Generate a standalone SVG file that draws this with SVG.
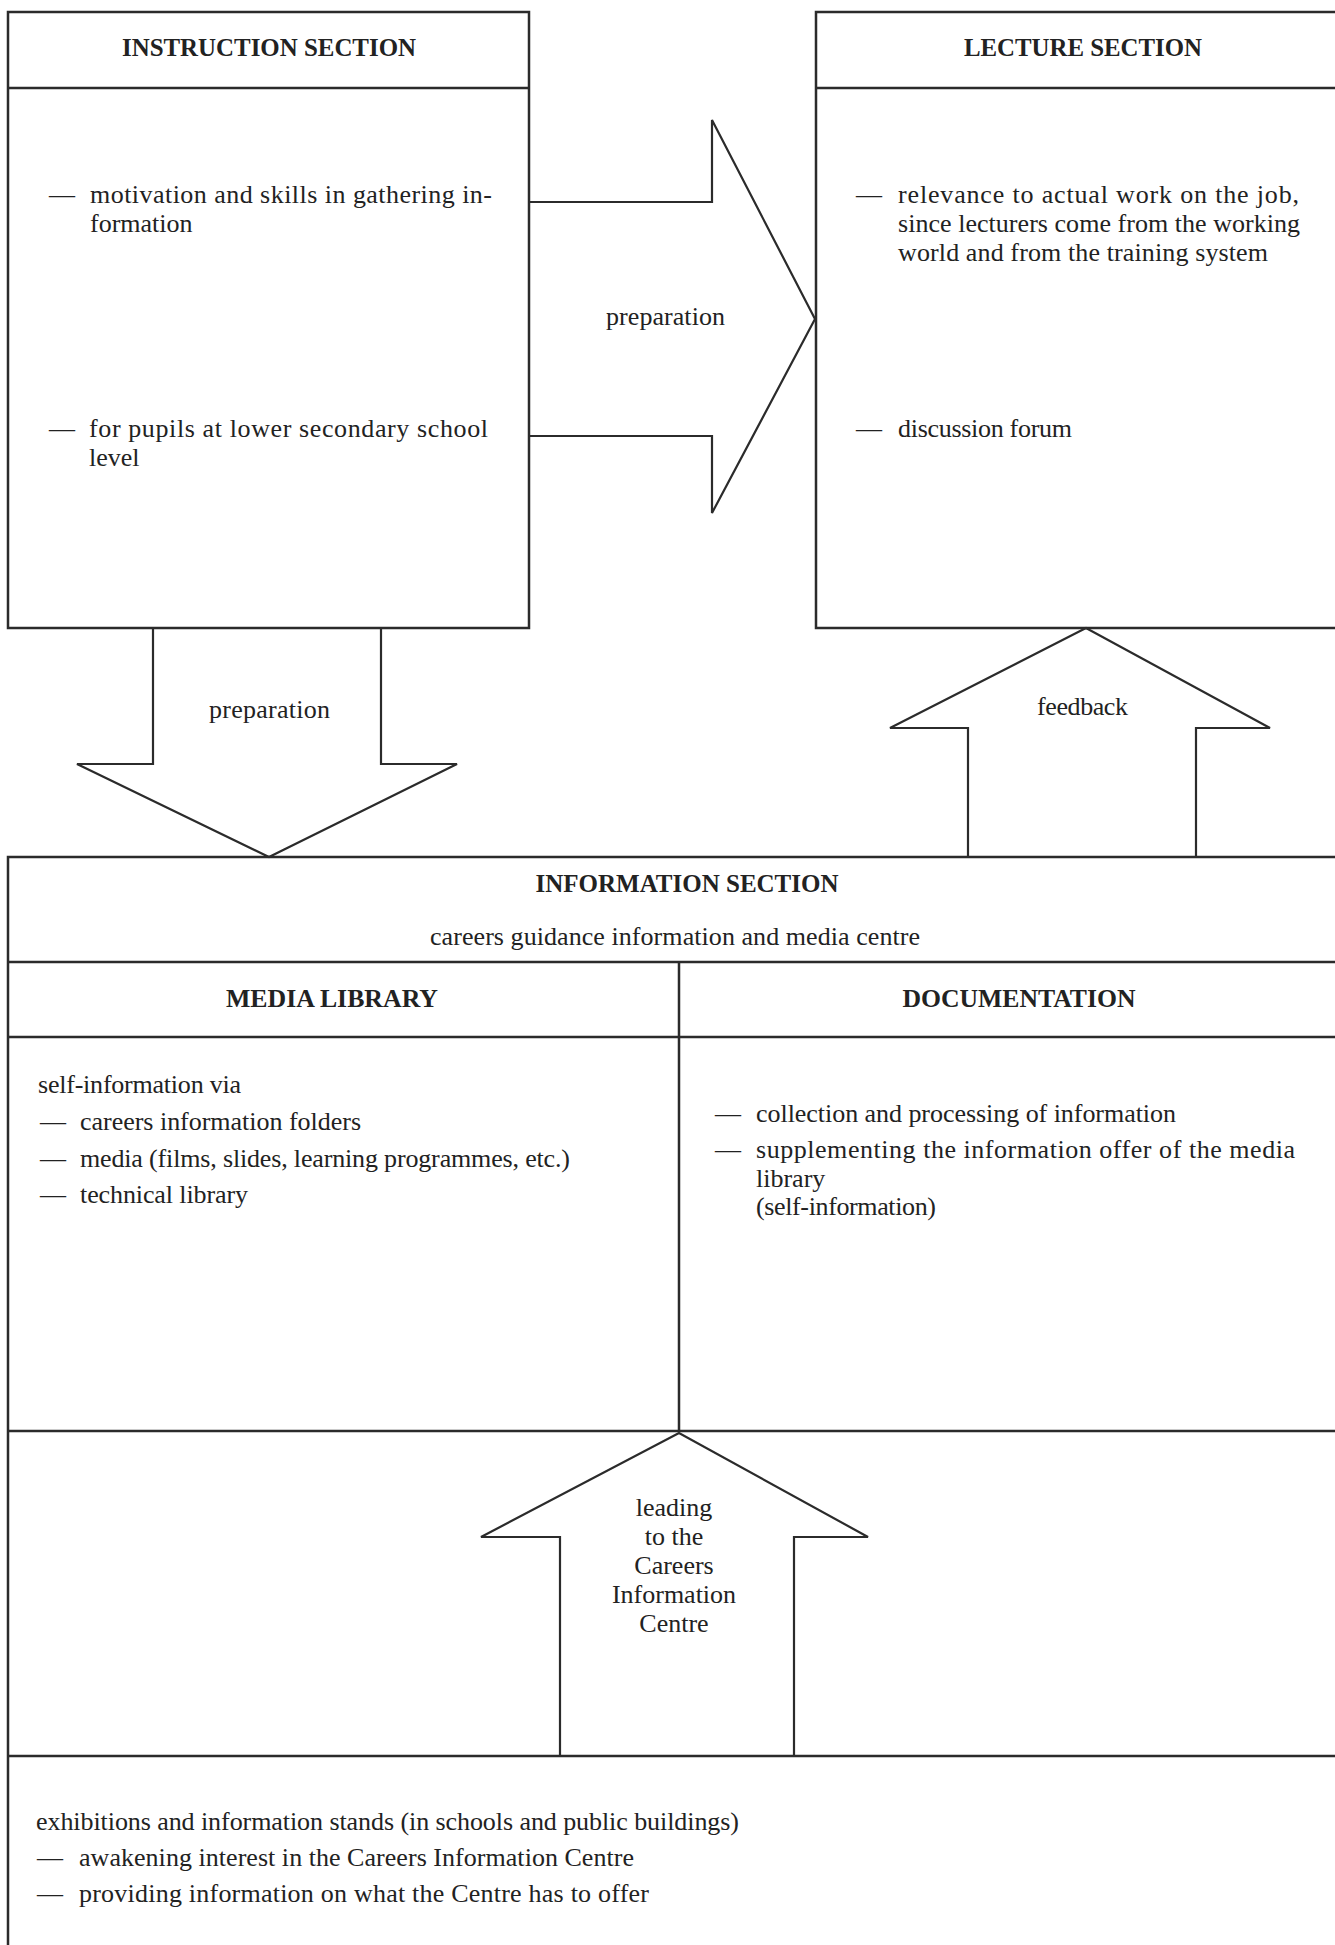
<svg xmlns="http://www.w3.org/2000/svg" width="1335" height="1945" viewBox="0 0 1335 1945">
<style>
  .ln { fill: none; stroke: #2b2b2b; stroke-width: 2.5; stroke-linejoin: miter; }
  .arr { fill: none; stroke: #2b2b2b; stroke-width: 2.2; stroke-linejoin: miter; }
  .t { font-family: "Liberation Serif", "Times New Roman", serif; font-size: 26px; fill: #222; }
  .h { font-family: "Liberation Serif", "Times New Roman", serif; font-size: 25px; font-weight: bold; fill: #222; text-anchor: middle; }
  .c { text-anchor: middle; }
</style>
<rect width="1335" height="1945" fill="#ffffff"/>

<g id="instruction-section">
  <rect class="ln" x="8" y="12" width="521" height="616"/>
  <line class="ln" x1="8" y1="88" x2="529" y2="88"/>
  <text class="h" x="269" y="56" textLength="294" lengthAdjust="spacingAndGlyphs">INSTRUCTION SECTION</text>
  <text class="t" x="49" y="203">—</text>
  <text class="t" x="90" y="203" textLength="402" lengthAdjust="spacing">motivation and skills in gathering in-</text>
  <text class="t" x="90" y="232">formation</text>
  <text class="t" x="49" y="437">—</text>
  <text class="t" x="89" y="437" textLength="399" lengthAdjust="spacing">for pupils at lower secondary school</text>
  <text class="t" x="89" y="466">level</text>
</g>

<g id="lecture-section">
  <path class="ln" d="M1345,12 H816 V628 H1345"/>
  <line class="ln" x1="816" y1="88" x2="1345" y2="88"/>
  <text class="h" x="1083" y="56" textLength="238" lengthAdjust="spacingAndGlyphs">LECTURE SECTION</text>
  <text class="t" x="856" y="203">—</text>
  <text class="t" x="898" y="203" textLength="401" lengthAdjust="spacing">relevance to actual work on the job,</text>
  <text class="t" x="898" y="232" textLength="402" lengthAdjust="spacing">since lecturers come from the working</text>
  <text class="t" x="898" y="261" textLength="370" lengthAdjust="spacing">world and from the training system</text>
  <text class="t" x="856" y="437">—</text>
  <text class="t" x="898" y="437" textLength="174" lengthAdjust="spacing">discussion forum</text>
</g>

<g id="information-section">
  <path class="ln" d="M1345,857 H8 V1950"/>
  <line class="ln" x1="8" y1="962" x2="1345" y2="962"/>
  <text class="h" x="687" y="892" textLength="303" lengthAdjust="spacingAndGlyphs">INFORMATION SECTION</text>
  <text class="t c" x="675" y="945" textLength="490" lengthAdjust="spacing">careers guidance information and media centre</text>
</g>

<g id="media-library">
  <line class="ln" x1="8" y1="1037" x2="679" y2="1037"/>
  <line class="ln" x1="679" y1="962" x2="679" y2="1431"/>
  <text class="h" x="332" y="1007" textLength="212" lengthAdjust="spacingAndGlyphs">MEDIA LIBRARY</text>
  <text class="t" x="38" y="1093" textLength="203" lengthAdjust="spacing">self-information via</text>
  <text class="t" x="40" y="1130">—</text>
  <text class="t" x="80" y="1130" textLength="281" lengthAdjust="spacing">careers information folders</text>
  <text class="t" x="40" y="1167">—</text>
  <text class="t" x="80" y="1167" textLength="490" lengthAdjust="spacing">media (films, slides, learning programmes, etc.)</text>
  <text class="t" x="40" y="1203">—</text>
  <text class="t" x="80" y="1203" textLength="168" lengthAdjust="spacing">technical library</text>
</g>

<g id="documentation">
  <line class="ln" x1="679" y1="1037" x2="1345" y2="1037"/>
  <text class="h" x="1019" y="1007" textLength="233" lengthAdjust="spacingAndGlyphs">DOCUMENTATION</text>
  <text class="t" x="715" y="1122">—</text>
  <text class="t" x="756" y="1122" textLength="420" lengthAdjust="spacing">collection and processing of information</text>
  <text class="t" x="715" y="1158">—</text>
  <text class="t" x="756" y="1158" textLength="539" lengthAdjust="spacing">supplementing the information offer of the media</text>
  <text class="t" x="756" y="1187">library</text>
  <text class="t" x="756" y="1215" textLength="180" lengthAdjust="spacing">(self-information)</text>
</g>

<g id="exhibitions">
  <line class="ln" x1="8" y1="1431" x2="1345" y2="1431"/>
  <line class="ln" x1="8" y1="1756" x2="1345" y2="1756"/>
  <text class="t" x="36" y="1830" textLength="703" lengthAdjust="spacing">exhibitions and information stands (in schools and public buildings)</text>
  <text class="t" x="37" y="1866">—</text>
  <text class="t" x="79" y="1866" textLength="555" lengthAdjust="spacing">awakening interest in the Careers Information Centre</text>
  <text class="t" x="37" y="1902">—</text>
  <text class="t" x="79" y="1902" textLength="570" lengthAdjust="spacing">providing information on what the Centre has to offer</text>
</g>

<g id="connectors">
  <g id="arrow-instruction-lecture">
    <polyline class="arr" points="529,202 712,202 712,120 815,319 712,513 712,436 529,436"/>
    <text class="t" x="606" y="325" textLength="119" lengthAdjust="spacing">preparation</text>
  </g>
  <g id="arrow-instruction-information">
    <polyline class="arr" points="153,628 153,764 77,764 269,857 457,764 381,764 381,628"/>
    <text class="t" x="209" y="718" textLength="121" lengthAdjust="spacing">preparation</text>
  </g>
  <g id="arrow-information-lecture">
    <polyline class="arr" points="968,857 968,728 890,728 1086,628 1270,728 1196,728 1196,857"/>
    <text class="t" x="1037" y="715" textLength="91" lengthAdjust="spacing">feedback</text>
  </g>
  <g id="arrow-exhibitions-information">
    <polyline class="arr" points="560,1756 560,1537 481,1537 679,1433 868,1537 794,1537 794,1756"/>
    <text class="t c" x="674" y="1516">leading</text>
    <text class="t c" x="674" y="1545">to the</text>
    <text class="t c" x="674" y="1574">Careers</text>
    <text class="t c" x="674" y="1603">Information</text>
    <text class="t c" x="674" y="1632">Centre</text>
  </g>
</g>
</svg>
